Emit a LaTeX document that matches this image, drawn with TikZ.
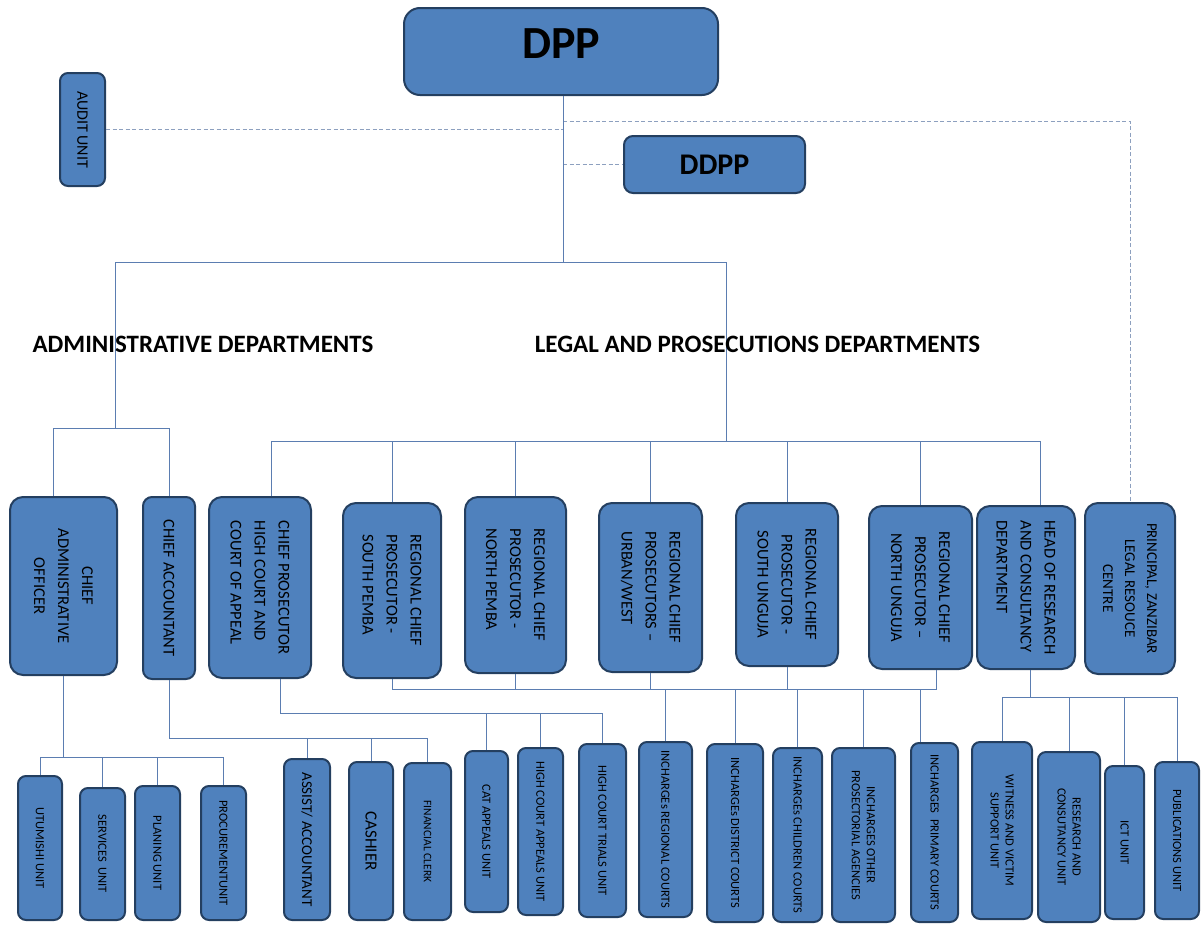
\documentclass[tikz,border=0pt]{standalone}
\usepackage{fontspec}
\setmainfont{Carlito}
\usetikzlibrary{positioning}
\definecolor{boxblue}{HTML}{4F81BD}
\definecolor{boxline}{HTML}{243F60}
\definecolor{linkblue}{HTML}{5B7DB1}
\definecolor{dashgrey}{HTML}{8DA0BF}
\tikzset{
  topbox/.style={draw=boxline, fill=boxblue, line width=2pt, rounded corners=16pt, inner sep=2pt},
  officebox/.style={draw=boxline, fill=boxblue, line width=2pt, rounded corners=13pt, rotate=-90, inner sep=2pt, align=center, font=\fontsize{16.5}{24}\selectfont},
  unitbox/.style={draw=boxline, fill=boxblue, line width=2pt, rounded corners=8pt, rotate=-90, inner sep=1pt, align=center, font=\fontsize{12.5}{15}\selectfont},
  deptlabel/.style={inner sep=0pt, font=\fontsize{25}{29}\selectfont\bfseries},
  link/.style={draw=linkblue, line width=1pt},
  dashlink/.style={draw=dashgrey, line width=1pt, dash pattern=on 4pt off 2.5pt},
}
\begin{document}
\begin{tikzpicture}[x=1pt,y=1pt,yscale=-1,xscale=1]
\useasboundingbox (0,0) rectangle (1204,924);

% Top level
\node[topbox, minimum width=314pt, minimum height=87pt, text depth=16pt, font=\fontsize{46}{50}\selectfont\bfseries] (dpp) at (561,51.5) {DPP};
\node[topbox, rounded corners=9pt, minimum width=181pt, minimum height=57pt, font=\fontsize{30}{34}\selectfont\bfseries] (ddpp) at (714.5,164.5) {DDPP};
\node[unitbox, minimum width=113pt, minimum height=45pt, font=\fontsize{16}{18}\selectfont] (audit) at (82.5,129.5) {AUDIT UNIT};

% Offices
\node[officebox, minimum width=178pt, minimum height=107pt] (cao) at (63.5,586) {CHIEF\\ADMINISTRATIVE\\OFFICER};
\node[officebox, rounded corners=9pt, minimum width=182pt, minimum height=52pt] (chacc) at (169,588) {CHIEF ACCOUNTANT};
\node[officebox, align=left, minimum width=181pt, minimum height=102pt] (chpros) at (260,587.5) {CHIEF PROSECUTOR\\HIGH COURT AND\\COURT OF APPEAL};
\node[officebox, align=left, minimum width=175pt, minimum height=98pt] (rsp) at (392,590.5) {REGIONAL CHIEF\\PROSECUTOR -\\SOUTH PEMBA};
\node[officebox, align=left, minimum width=176pt, minimum height=101pt] (rnp) at (515.5,585) {REGIONAL CHIEF\\PROSECUTOR -\\NORTH PEMBA};
\node[officebox, align=left, minimum width=169pt, minimum height=103pt] (ruw) at (650.5,587.5) {REGIONAL CHIEF\\PROSECUTORS –\\URBAN/WEST};
\node[officebox, minimum width=163pt, minimum height=102pt] (rsu) at (787,584.5) {REGIONAL CHIEF\\PROSECUTOR -\\SOUTH UNGUJA};
\node[officebox, minimum width=163pt, minimum height=103pt] (rnu) at (920.5,587.5) {REGIONAL CHIEF\\PROSECUTOR –\\NORTH UNGUJA};
\node[officebox, align=left, minimum width=163pt, minimum height=98pt] (hrc) at (1026,587.5) {HEAD OF RESEARCH\\AND CONSULTANCY\\DEPARTMENT};
\node[officebox, minimum width=171pt, minimum height=90pt, font=\fontsize{15}{22}\selectfont] (zlrc) at (1130,588.5) {PRINCIPAL, ZANZIBAR\\LEGAL RESOUCE\\CENTRE};

% Units
\node[unitbox, minimum width=144pt, minimum height=44pt] (utu) at (40,848) {UTUMISHI UNIT};
\node[unitbox, minimum width=132pt, minimum height=45pt] (serv) at (102.5,854) {SERVICES\ \ UNIT};
\node[unitbox, minimum width=134pt, minimum height=45pt] (plan) at (157.5,853) {PLANING UNIT};
\node[unitbox, minimum width=134pt, minimum height=45pt] (proc) at (223.5,853) {PROCUREMENTUNIT};
\node[unitbox, minimum width=161pt, minimum height=46pt, font=\fontsize{15}{18}\selectfont] (assist) at (307,839.5) {ASSIST/ ACCOUNTANT};
\node[unitbox, minimum width=158pt, minimum height=44pt, font=\fontsize{17}{20}\selectfont] (cash) at (371,841) {CASHIER};
\node[unitbox, minimum width=157pt, minimum height=47pt, font=\fontsize{11.5}{14}\selectfont] (fclerk) at (427.5,841.5) {FINANCIAL CLERK};
\node[unitbox, minimum width=161pt, minimum height=43pt] (cat) at (486.5,831.5) {CAT APPEALS UNIT};
\node[unitbox, minimum width=167pt, minimum height=45pt] (hca) at (540.5,831.5) {HIGH COURT APPEALS UNIT};
\node[unitbox, minimum width=173pt, minimum height=47pt] (hct) at (602.5,830.5) {HIGH COURT TRIALS UNIT};
\node[unitbox, minimum width=175pt, minimum height=53pt] (inreg) at (665.5,829.5) {INCHARGEs REGIONAL COURTS};
\node[unitbox, minimum width=178pt, minimum height=56pt] (indis) at (735,833) {INCHARGEs DISTRICT COURTS};
\node[unitbox, minimum width=174pt, minimum height=49pt] (inchi) at (797.5,835) {INCHARGEs CHILDREN COURTS};
\node[unitbox, minimum width=174pt, minimum height=63pt] (inoth) at (863.5,835) {INCHARGES OTHER\\PROSECTORIAL AGENCIES};
\node[unitbox, minimum width=179pt, minimum height=47pt] (inpri) at (934.5,832.5) {INCHARGES\ \ PRIMARY COURTS};
\node[unitbox, minimum width=177pt, minimum height=60pt] (wit) at (1002,830.5) {WITNESS AND VICTIM\\SUPPORT UNIT};
\node[unitbox, minimum width=170pt, minimum height=62pt] (rcu) at (1069,837) {RESEARCH AND\\CONSUTANCY UNIT};
\node[unitbox, minimum width=153pt, minimum height=39pt] (ict) at (1124.5,842.5) {ICT UNIT};
\node[unitbox, minimum width=157pt, minimum height=44pt] (pub) at (1177,840.5) {PUBLICATIONS UNIT};

% Bus points
\coordinate (admtop) at (115,262);
\coordinate (legtop) at (726,262);
\coordinate (admbus) at (115,428);
\coordinate (legbus) at (726,441);
\coordinate (pdash) at (563,121);
\coordinate (caobus) at (63,757);
\coordinate (accbus) at (166,738);
\coordinate (trialbus) at (280,713);
\coordinate (regbus) at (385,689);
\coordinate (resbus) at (1030,697);
\coordinate (caoup) at ([xshift=-10pt]cao.west);
\coordinate (prosup) at ([xshift=11pt]chpros.west);
\coordinate (hrcup) at ([xshift=14pt]hrc.west);
\coordinate (prosdown) at ([xshift=20pt]chpros.east);
\coordinate (nudown) at ([xshift=16pt]rnu.east);
\coordinate (hrcdown) at ([xshift=4pt]hrc.east);
\coordinate (pridrop) at ([xshift=-14pt]inpri.west);

% Dashed links
\draw[dashlink] (audit.north) -- (audit.north -| pdash);
\draw[dashlink] (ddpp.west -| pdash) -- (ddpp.west);
\draw[dashlink] (pdash) -| (zlrc.west);

% Trunk
\draw[link] ([xshift=2pt]dpp.south) -- (admtop -| pdash);
\draw[link] (admtop) -- (legtop);
\draw[link] (admtop) -- (admbus);
\draw[link] (legtop) -- (legbus);
\draw[link] (caoup) -- (caoup |- admbus) -- (chacc.west |- admbus) -- (chacc.west);
\draw[link] (prosup) -- (prosup |- legbus) -- (hrcup |- legbus) -- (hrcup);
\foreach \n in {rsp,rnp,ruw,rsu,rnu}
  \draw[link] (\n.west) -- (\n.west |- legbus);

% Administrative units
\draw[link] (cao.east) -- (cao.east |- caobus);
\draw[link] (utu.west) -- (utu.west |- caobus) -- (proc.west |- caobus) -- (proc.west);
\foreach \n in {serv,plan}
  \draw[link] (\n.west) -- (\n.west |- caobus);
\draw[link] (chacc.east) -- (chacc.east |- accbus) -- (fclerk.west |- accbus) -- (fclerk.west);
\foreach \n in {assist,cash}
  \draw[link] (\n.west) -- (\n.west |- accbus);

% Prosecution units
\draw[link] (prosdown) -- (prosdown |- trialbus) -- (hct.west |- trialbus) -- (hct.west);
\foreach \n in {cat,hca}
  \draw[link] (\n.west) -- (\n.west |- trialbus);
\draw[link] (rsp.east) -- (rsp.east |- regbus) -- (nudown |- regbus) -- (nudown);
\foreach \n in {rnp,ruw,rsu}
  \draw[link] (\n.east) -- (\n.east |- regbus);
\foreach \n in {inreg,indis,inchi,inoth}
  \draw[link] (\n.west) -- (\n.west |- regbus);
\draw[link] (pridrop) -- (pridrop |- regbus);

% Research units
\draw[link] (hrcdown) -- (hrcdown |- resbus);
\draw[link] (wit.west) -- (wit.west |- resbus) -- (pub.west |- resbus) -- (pub.west);
\foreach \n in {rcu,ict}
  \draw[link] (\n.west) -- (\n.west |- resbus);

% Text Node
\node[deptlabel] (admlbl) at (203,344) {ADMINISTRATIVE DEPARTMENTS};
% Text Node
\node[deptlabel] (leglbl) at (757.5,344) {LEGAL AND PROSECUTIONS DEPARTMENTS};

\end{tikzpicture}
\end{document}
